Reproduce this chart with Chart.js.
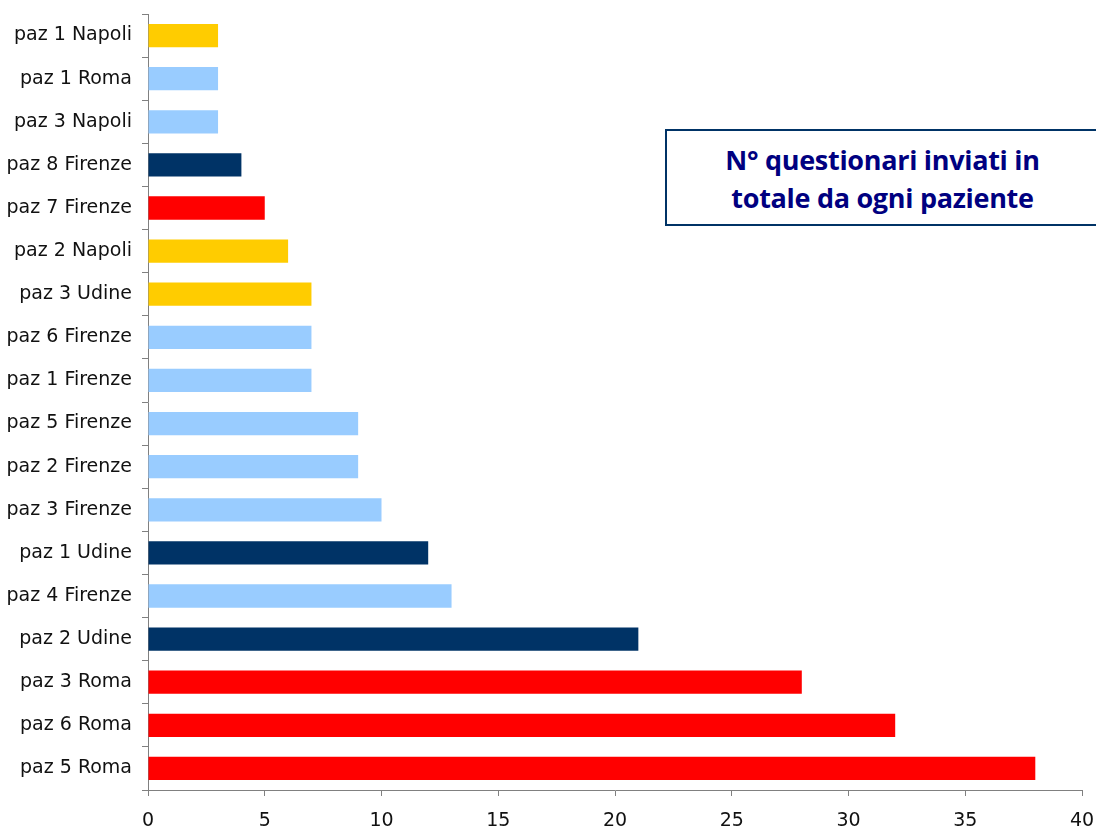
<!DOCTYPE html>
<html>
<head>
<meta charset="utf-8">
<script src="https://cdn.jsdelivr.net/npm/chart.js@4"></script>
<style>
  body { margin: 0; background: #fff; }
  #wrap { position: relative; width: 1096px; height: 831px; }
  #note {
    position: absolute; left: 665px; top: 129px; width: 440px; height: 93px;
    border: 2px solid #003366; background: #fff; box-sizing: content-box;
  }
  #note div {
    width: 431px; text-align: center; color: #000080;
    font: bold 27px "Open Sans", sans-serif; line-height: 38px; padding-top: 10px;
    letter-spacing: -0.3px;
  }
</style>
</head>
<body>
<div id="wrap">
  <canvas id="chart" width="1096" height="831"></canvas>
  <div id="note"><div>N° questionari inviati in<br>totale da ogni paziente</div></div>
</div>
<script>
// Data, top to bottom
const patients = ['paz 1 Napoli', 'paz 1 Roma', 'paz 3 Napoli', 'paz 8 Firenze', 'paz 7 Firenze',
  'paz 2 Napoli', 'paz 3 Udine', 'paz 6 Firenze', 'paz 1 Firenze', 'paz 5 Firenze',
  'paz 2 Firenze', 'paz 3 Firenze', 'paz 1 Udine', 'paz 4 Firenze', 'paz 2 Udine',
  'paz 3 Roma', 'paz 6 Roma', 'paz 5 Roma'];
const questionnaires = [3, 3, 3, 4, 5, 6, 7, 7, 7, 9, 9, 10, 12, 13, 21, 28, 32, 38];
const barColors = ['#FFCC00', '#99CCFF', '#99CCFF', '#003366', '#FF0000',
  '#FFCC00', '#FFCC00', '#99CCFF', '#99CCFF', '#99CCFF',
  '#99CCFF', '#99CCFF', '#003366', '#99CCFF', '#003366',
  '#FF0000', '#FF0000', '#FF0000'];
const xTicks = [0, 5, 10, 15, 20, 25, 30, 35, 40];

const ctx = document.getElementById('chart').getContext('2d');
const labelFont = { family: '"DejaVu Sans", sans-serif', size: 19 };

new Chart(ctx, {
  type: 'bar',
  data: {
    labels: patients,
    datasets: [{
      data: questionnaires,
      backgroundColor: barColors,
      borderWidth: 0,
      categoryPercentage: 0.54,
      barPercentage: 1.0,
    }],
  },
  options: {
    indexAxis: 'y',
    responsive: false,
    animation: false,
    layout: { padding: { top: 14, right: 14, left: 0, bottom: 0 } },
    plugins: { legend: { display: false }, tooltip: { enabled: false } },
    scales: {
      x: {
        min: 0, max: 40,
        afterBuildTicks: (s) => { s.ticks = xTicks.map(v => ({ value: v })); },
        afterFit: (s) => { s.height = 41; s.paddingLeft = 0; s.paddingRight = 0; },
        grid: { drawOnChartArea: false, tickLength: 6, color: '#808080' },
        border: { color: '#808080' },
        ticks: { color: '#111', font: labelFont, padding: 14, maxRotation: 0 },
      },
      y: {
        afterFit: (s) => { s.width = 148; s.paddingTop = 0; s.paddingBottom = 0; },
        grid: { drawOnChartArea: false, tickLength: 6, color: '#808080', offset: true },
        border: { color: '#808080' },
        ticks: { color: '#111', font: labelFont, padding: 10 },
      },
    },
  },
});
</script>
</body>
</html>
